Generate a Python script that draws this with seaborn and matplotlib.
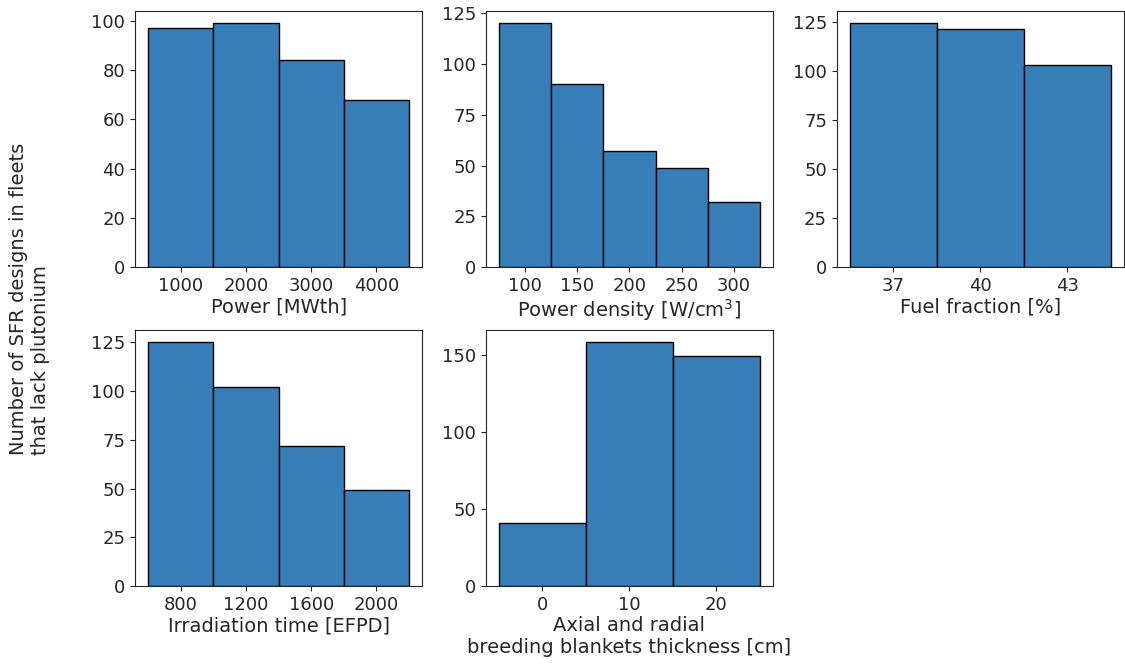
import numpy as np
import pandas as pd
import matplotlib
matplotlib.use("Agg")
import matplotlib.pyplot as plt
import seaborn as sns

# bin edges and counts
power_edges = [500, 1500, 2500, 3500, 4500]
power_counts = [97, 99, 84, 68]

density_edges = [75, 125, 175, 225, 275, 325]
density_counts = [120, 90, 57, 49, 32]

fuel_edges = [35.5, 38.5, 41.5, 44.5]
fuel_counts = [124, 121, 103]

irr_edges = [600, 1000, 1400, 1800, 2200]
irr_counts = [125, 102, 72, 49]

blanket_edges = [-5, 5, 15, 25]
blanket_counts = [41, 158, 149]

panels = [
    (power_edges, power_counts, 'Power [MWth]', [1000, 2000, 3000, 4000], [0, 20, 40, 60, 80, 100]),
    (density_edges, density_counts, 'Power density [W/cm$^3$]', [100, 150, 200, 250, 300], [0, 25, 50, 75, 100, 125]),
    (fuel_edges, fuel_counts, 'Fuel fraction [%]', [37, 40, 43], [0, 25, 50, 75, 100, 125]),
    (irr_edges, irr_counts, 'Irradiation time [EFPD]', [800, 1200, 1600, 2000], [0, 25, 50, 75, 100, 125]),
    (blanket_edges, blanket_counts, 'Axial and radial\nbreeding blankets thickness [cm]', [0, 10, 20], [0, 50, 100, 150]),
]

sns.set_style('ticks')
plt.rcParams['font.family'] = ['DejaVu Sans']

fig, axes = plt.subplots(2, 3, figsize=(11.25, 6.64), dpi=100)
fig.subplots_adjust(left=0.12, right=0.999, top=0.983, bottom=0.1175, wspace=0.222, hspace=0.247)

for ax, (edges, counts, label, xt, yt) in zip(axes.flat, panels):
    e = np.array(edges, dtype=float)
    df = pd.DataFrame({'x': (e[:-1] + e[1:]) / 2, 'n': counts})
    sns.histplot(data=df, x='x', weights='n', bins=list(edges), ax=ax, color='#377eb8',
                 edgecolor='black', alpha=1, linewidth=1)
    ax.set_xlabel(label, fontsize=14, labelpad=2)
    ax.set_ylabel('')
    ax.set_xticks(xt)
    ax.set_yticks(yt)
    ax.tick_params(labelsize=13)
    for s in ax.spines.values():
        s.set_visible(True)

axes[1, 2].axis('off')

fig.supylabel('Number of SFR designs in fleets\nthat lack plutonium', fontsize=14, x=0.008, y=0.55)

plt.savefig('out.png', dpi=100)
